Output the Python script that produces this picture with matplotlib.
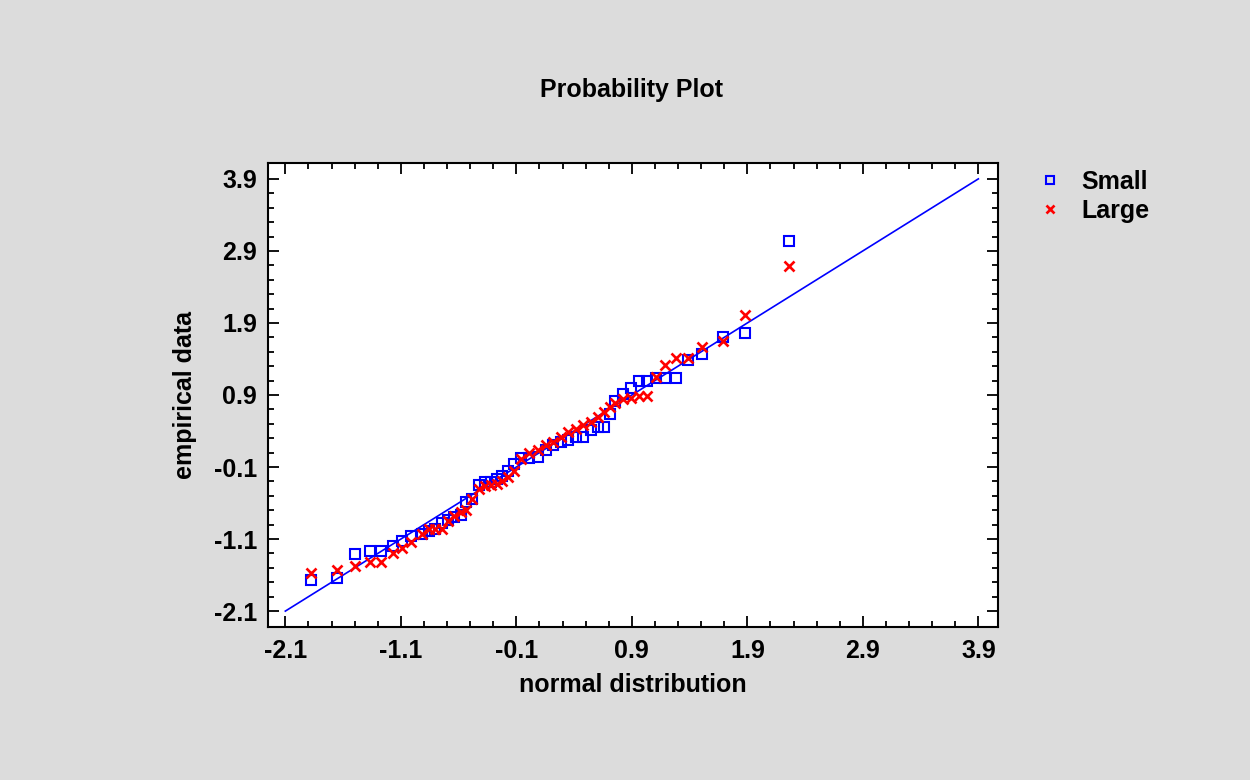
import matplotlib.pyplot as plt
import numpy as np

plt.rcParams['font.family'] = ['Liberation Sans', 'DejaVu Sans']
plt.rcParams['font.weight'] = 'bold'

# normal quantile positions (shared by both samples)
x_norm = [-1.88, -1.65, -1.50, -1.37, -1.27, -1.17, -1.09, -1.01, -0.92, -0.86,
          -0.80, -0.74, -0.69, -0.64, -0.58, -0.54, -0.48, -0.42, -0.37, -0.32,
          -0.27, -0.22, -0.17, -0.12, -0.06, 0.01, 0.09, 0.16, 0.22, 0.29,
          0.35, 0.42, 0.48, 0.55, 0.61, 0.66, 0.71, 0.75, 0.82, 0.89,
          0.96, 1.03, 1.11, 1.19, 1.28, 1.39, 1.51, 1.69, 1.88, 2.26]

small = [-1.67, -1.64, -1.31, -1.27, -1.27, -1.20, -1.13, -1.06, -1.03, -0.99,
         -0.96, -0.87, -0.84, -0.80, -0.76, -0.58, -0.55, -0.35, -0.31, -0.31,
         -0.26, -0.23, -0.16, -0.06, 0.02, 0.03, 0.04, 0.14, 0.20, 0.25,
         0.28, 0.31, 0.31, 0.42, 0.46, 0.46, 0.63, 0.81, 0.92, 1.00,
         1.09, 1.09, 1.14, 1.14, 1.14, 1.39, 1.47, 1.71, 1.76, 3.04]

large = [-1.57, -1.53, -1.48, -1.42, -1.42, -1.30, -1.23, -1.14, -1.03, -0.96,
         -0.96, -0.96, -0.85, -0.78, -0.73, -0.69, -0.55, -0.41, -0.37, -0.35,
         -0.33, -0.29, -0.24, -0.16, 0.01, 0.09, 0.14, 0.21, 0.25, 0.32,
         0.38, 0.43, 0.48, 0.53, 0.59, 0.66, 0.73, 0.79, 0.85, 0.86,
         0.88, 0.88, 1.15, 1.31, 1.42, 1.42, 1.56, 1.65, 2.01, 2.69]

ref_line = [-2.1, 3.9]
tick_vals = [-2.1, -1.1, -0.1, 0.9, 1.9, 2.9, 3.9]
tick_labels = ['-2.1', '-1.1', '-0.1', '0.9', '1.9', '2.9', '3.9']

fs = 18
bg = '#dcdcdc'
fig = plt.figure(figsize=(12.5, 7.8), dpi=100, facecolor=bg)
ax = fig.add_axes([0.2144, 0.1962, 0.584, 0.5948])
ax.set_facecolor('white')

# reference line
ax.plot(ref_line, ref_line, color='#0000ff', lw=1.2, zorder=2)
# data
ax.plot(x_norm, small, ls='none', marker='s', ms=6.8, mfc='none', mec='#0000ff',
        mew=1.5, label='Small', zorder=3)
ax.plot(x_norm, large, ls='none', marker='x', ms=6.5, mec='#ff0000',
        mew=1.9, label='Large', zorder=4)

ax.set_xlim(-2.25, 4.07)
ax.set_ylim(-2.32, 4.12)

ax.set_xticks(tick_vals)
ax.set_xticklabels(tick_labels)
ax.set_yticks(tick_vals)
ax.set_yticklabels(tick_labels)
ax.set_xticks(np.arange(-2.1, 4.0, 0.2), minor=True)
ax.set_yticks(np.arange(-2.1, 4.0, 0.2), minor=True)
ax.tick_params(which='both', direction='in', top=True, right=True, width=1.3, color='black')
ax.tick_params(which='major', length=8, labelsize=fs)
ax.tick_params(axis='x', which='major', pad=9)
ax.tick_params(axis='y', which='major', pad=8)
ax.tick_params(which='minor', length=4.5)
for lab in ax.get_xticklabels() + ax.get_yticklabels():
    lab.set_fontweight('bold')
for s in ax.spines.values():
    s.set_linewidth(1.5)

ax.set_xlabel('normal distribution', fontsize=fs, fontweight='bold', labelpad=7)
ax.set_ylabel('empirical data', fontsize=fs, fontweight='bold', labelpad=12)
fig.text(0.505, 0.885, 'Probability Plot', ha='center', va='center',
         fontsize=fs, fontweight='bold')

leg = ax.legend(loc='upper left', bbox_to_anchor=(0.816, 0.805),
                bbox_transform=fig.transFigure, frameon=False,
                prop={'size': fs, 'weight': 'bold'}, handlelength=1.0,
                handletextpad=0.75, labelspacing=0.2, markerscale=0.9,
                borderpad=0.2)

fig.savefig('out.png', dpi=100, facecolor=bg)
